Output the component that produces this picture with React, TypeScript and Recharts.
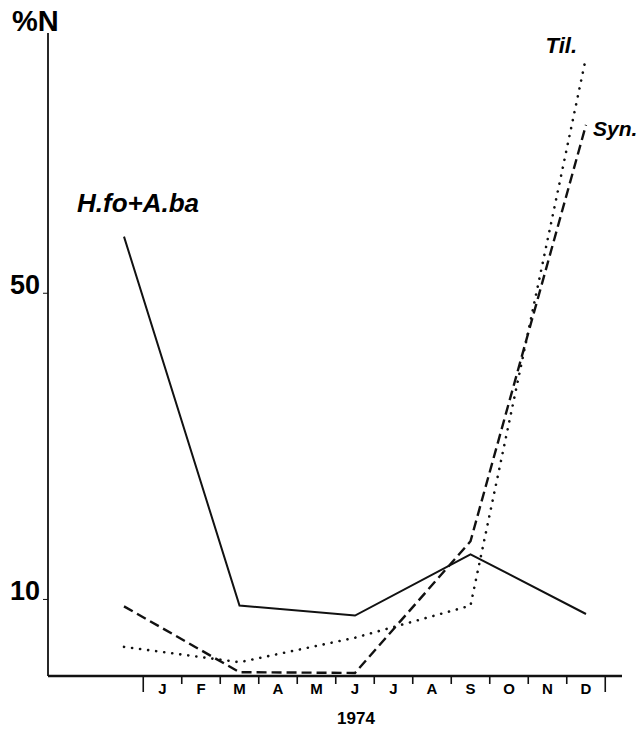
import { Label, Line, LineChart, XAxis, YAxis } from "recharts";

// month slots: 0 = Dec 1973, 1..12 = Jan..Dec 1974
const MONTH_LABELS = ["", "J", "F", "M", "A", "M", "J", "J", "A", "S", "O", "N", "D"];
const MONTH_TICKS = [1, 2, 3, 4, 5, 6, 7, 8, 9, 10, 11, 12];
const BOUNDARY_TICKS = [0.5, 1.5, 2.5, 3.5, 4.5, 5.5, 6.5, 7.5, 8.5, 9.5, 10.5, 11.5, 12.5];
const SAMPLE_MONTHS = [0, 3, 6, 9, 12];
const HFO_ABA = [57.4, 9.2, 7.9, 15.9, 8.1];
const SYN = [9.1, 0.5, 0.4, 17.6, 72.0];
const TIL = [3.8, 1.8, 5.0, 9.2, 80.8];
const Y_TICKS = [10, 50];

const data = SAMPLE_MONTHS.map((m, i) => ({
  m,
  hfo: HFO_ABA[i],
  syn: SYN[i],
  til: TIL[i],
}));

const X_TICKS = [...BOUNDARY_TICKS, ...MONTH_TICKS].sort((a, b) => a - b);

const FONT = "'Liberation Sans', Arial, Helvetica, sans-serif";
const INK = "#111";

const seriesLabel =
  (text: string, index: number, dx: number, dy: number, anchor: "start" | "end", size: number) =>
  (props: any) => {
    if (props.index !== index) return null;
    return (
      <text
        x={props.x + dx}
        y={props.y + dy}
        textAnchor={anchor}
        fontFamily={FONT}
        fontWeight="bold"
        fontStyle="italic"
        fontSize={size}
        fill="#000"
      >
        {text}
      </text>
    );
  };

const MonthTick = (props: any) => {
  const { x, y, payload } = props;
  const v = payload.value as number;
  if (!Number.isInteger(v)) {
    const first = v === BOUNDARY_TICKS[0];
    const last = v === BOUNDARY_TICKS[BOUNDARY_TICKS.length - 1];
    const len = first || last ? 16 : 8;
    return <line x1={x} x2={x} y1={y} y2={y + len} stroke={INK} strokeWidth={1.6} />;
  }
  return (
    <text x={x} y={y} dy={18} textAnchor="middle" fontFamily={FONT} fontWeight="bold" fontSize={15} fill="#000">
      {MONTH_LABELS[v]}
    </text>
  );
};

const ValueTick = (props: any) => {
  const { x, y, payload } = props;
  return (
    <text x={x} y={y} dy={1} textAnchor="end" fontFamily={FONT} fontWeight="bold" fontSize={27} fill="#000">
      {payload.value}
    </text>
  );
};

export default function App() {
  return (
    <div style={{ position: "absolute", left: 0, top: 0, background: "#fff" }}>
      <LineChart width={638} height={729} data={data} margin={{ top: 33, right: 16, bottom: 0, left: 0 }}>
        <XAxis
          type="number"
          dataKey="m"
          domain={[-1.974, 12.935]}
          ticks={X_TICKS}
          interval={0}
          tick={<MonthTick />}
          tickLine={false}
          tickSize={0}
          tickMargin={0}
          axisLine={{ stroke: INK, strokeWidth: 2.5 }}
          height={53}
          allowDataOverflow
        >
          <Label
            value="1974"
            position="insideBottom"
            offset={5}
            dx={21}
            fontFamily={FONT}
            fontWeight="bold"
            fontSize={17}
            fill="#000"
          />
        </XAxis>
        <YAxis
          type="number"
          domain={[0, 84]}
          ticks={Y_TICKS}
          tick={<ValueTick />}
          tickSize={5}
          tickMargin={3}
          tickLine={{ stroke: INK, strokeWidth: 1 }}
          axisLine={{ stroke: INK, strokeWidth: 1.8 }}
          width={48}
          allowDataOverflow
        />
        <Line
          dataKey="hfo"
          type="linear"
          stroke={INK}
          strokeWidth={2}
          dot={false}
          isAnimationActive={false}
          label={seriesLabel("H.fo+A.ba", 0, -47, -25, "start", 26)}
        />
        <Line
          dataKey="syn"
          type="linear"
          stroke={INK}
          strokeWidth={2.4}
          strokeDasharray="10 5"
          dot={false}
          isAnimationActive={false}
          label={seriesLabel("Syn.", 4, 7, 11, "start", 21)}
        />
        <Line
          dataKey="til"
          type="linear"
          stroke={INK}
          strokeWidth={2.6}
          strokeDasharray="0.1 8"
          strokeLinecap="round"
          dot={false}
          isAnimationActive={false}
          label={seriesLabel("Til.", 4, -9, -4, "end", 22)}
        />
        <text x={12} y={31} fontFamily={FONT} fontWeight="bold" fontSize={29} fill="#000">
          %N
        </text>
      </LineChart>
    </div>
  );
}
